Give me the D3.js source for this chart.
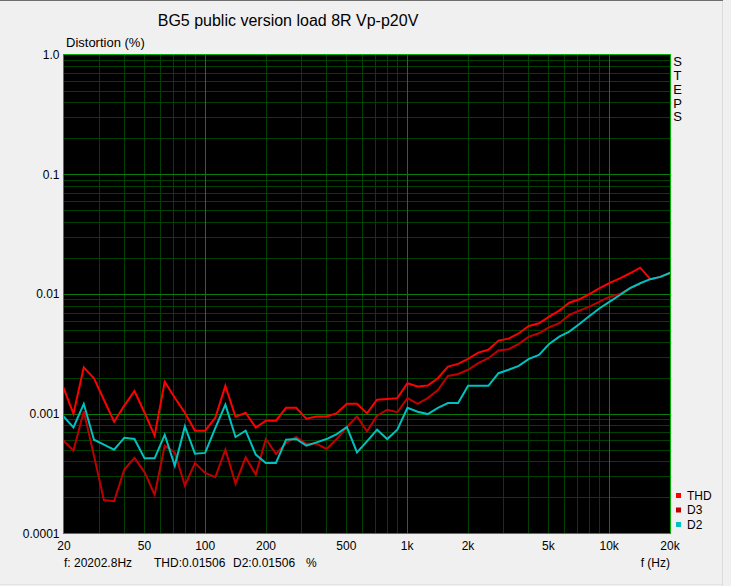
<!DOCTYPE html>
<html>
<head>
<meta charset="utf-8">
<script src="https://cdn.jsdelivr.net/npm/d3@7"></script>
<style>
  html, body { margin: 0; padding: 0; background: #f0f0f0; }
  svg { display: block; }
  text { font-family: "Liberation Sans", Arial, sans-serif; }
</style>
</head>
<body>
<svg id="chart" width="731" height="586"></svg>
<script>
// ---- data ----
const freqs = [20,22.4,25.2,28.3,31.7,35.6,40.0,44.9,50.4,56.5,
  63.4,71.1,79.8,89.5,100.5,112.8,126.6,142.1,159.5,179.0,
  200.7,225.3,252.8,283.8,318.5,357.5,401.3,450.4,505.6,567.5,
  635.6,713.4,800.7,898.7,1008.8,1132.3,1271.2,1426.5,1601.2,1797.1,
  2013.5,2260,2536.6,2847,3195.6,3586.9,4025.9,4518.9,5072,5693,
  6378,7158.7,8034.9,9018.5,10122.5,11362,12752,14314,16066,18032,
  20202.8];

const thd = [0.00165,0.00100,0.00244,0.00198,0.00131,0.000858,0.00117,0.00155,0.00102,0.000656,
  0.00185,0.00136,0.00102,0.000722,0.000722,0.000926,0.00171,0.000944,0.00102,0.000765,
  0.000875,0.000875,0.00112,0.00112,0.000909,0.00095,0.00095,0.00101,0.00121,0.00121,
  0.00101,0.00131,0.00133,0.00135,0.00180,0.00169,0.00172,0.00198,0.00248,0.00261,
  0.00287,0.00324,0.00342,0.00408,0.00424,0.0047,0.00541,0.0057,0.00647,0.00726,
  0.00846,0.00903,0.0100,0.0112,0.0124,0.0135,0.0149,0.0166,0.0133,0.0139,
  0.01506];

const d3h = [0.000596,0.000492,0.00105,0.000447,0.00019,0.000186,0.000342,0.000428,0.000324,0.000211,
  0.000541,0.000476,0.000251,0.000388,0.000321,0.000295,0.000501,0.000261,0.000432,0.00031,
  0.000615,0.000462,0.00057,0.000639,0.000562,0.000562,0.000508,0.000615,0.000775,0.00095,
  0.000712,0.000962,0.00108,0.00103,0.00135,0.00121,0.00135,0.00158,0.00207,0.00215,
  0.00233,0.00265,0.00291,0.00337,0.00346,0.00383,0.00441,0.0047,0.00528,0.0057,
  0.00668,0.00726,0.00784,0.00863,0.0095,0.0100,0.0112,0.01212];

const d2h = [0.00095,0.000769,0.00121,0.000607,0.000552,0.000501,0.000631,0.000615,0.000424,0.000424,
  0.000668,0.000369,0.000784,0.000464,0.000471,0.000757,0.00119,0.000639,0.000722,0.000456,
  0.000388,0.000388,0.000607,0.000615,0.000541,0.000577,0.000615,0.000677,0.000775,0.000476,
  0.000588,0.000736,0.000615,0.000736,0.00112,0.00104,0.000994,0.00112,0.00123,0.00123,
  0.00171,0.00171,0.00171,0.00218,0.00233,0.00251,0.00287,0.0031,0.00383,0.00441,
  0.00485,0.00562,0.00656,0.0076,0.00863,0.00981,0.0112,0.0123,0.0133,0.0139,
  0.01506];

const seriesNames = ["THD", "D3", "D2"];
const seriesColors = ["#ff0000", "#c00000", "#00c0c0"];

const xTickValues = [20,50,100,200,500,1000,2000,5000,10000,20000];
const xTickLabels = ["20","50","100","200","500","1k","2k","5k","10k","20k"];
const yTickValues = [1,0.1,0.01,0.001,0.0001];
const yTickLabels = ["1.0","0.1","0.01","0.001","0.0001"];
const xMinorGrid = [30,40,50,60,70,80,90,200,300,400,500,600,700,800,900,
  2000,3000,4000,5000,6000,7000,8000,9000];
const xMajorGrid = [100,1000,10000];
const yMinorGrid = [2,3,4,5,6,7,8,9].flatMap(m => [1e-4,1e-3,1e-2,1e-1].map(e => m*e));
const yMajorGrid = [0.001,0.01,0.1];

const titleText = "BG5 public version load 8R Vp-p20V";
const yAxisTitle = "Distortion (%)";
const xAxisTitle = "f (Hz)";
const readout = ["f: 20202.8Hz", "THD:0.01506", "D2:0.01506", "%"];

// ---- layout ----
const L = 63.5, R = 670.5, T = 54.5, B = 533.5;
const svg = d3.select("#chart");

// window frame lines
svg.append("rect").attr("x",0).attr("y",0).attr("width",723).attr("height",1).attr("fill","#6e6e6e");
svg.append("rect").attr("x",722).attr("y",1).attr("width",1).attr("height",585).attr("fill","#dcdcdc");
svg.append("rect").attr("x",0).attr("y",584).attr("width",722).attr("height",1).attr("fill","#e4e4e4");

const x = d3.scaleLog().domain([20, 20000]).range([L, 669.5]);
const y = d3.scaleLog().domain([0.0001, 1]).range([B, T]);

// plot background
svg.append("rect").attr("x",L).attr("y",T).attr("width",R-L).attr("height",B-T).attr("fill","#000");

const grid = svg.append("g").attr("shape-rendering","crispEdges");
grid.selectAll("line.vmin").data(xMinorGrid).join("line")
  .attr("x1", d => Math.round(x(d)) + 0.5).attr("x2", d => Math.round(x(d)) + 0.5)
  .attr("y1", T).attr("y2", B).attr("stroke", "#004000").attr("stroke-width", 1);
grid.selectAll("line.hmin").data(yMinorGrid).join("line")
  .attr("y1", d => Math.round(y(d)) + 0.5).attr("y2", d => Math.round(y(d)) + 0.5)
  .attr("x1", L).attr("x2", R).attr("stroke", "#004000").attr("stroke-width", 1);
grid.selectAll("line.vmaj").data(xMajorGrid).join("line")
  .attr("x1", d => Math.round(x(d)) + 0.5).attr("x2", d => Math.round(x(d)) + 0.5)
  .attr("y1", T).attr("y2", B).attr("stroke", "#0a7a0a").attr("stroke-width", 1);
grid.selectAll("line.hmaj").data(yMajorGrid).join("line")
  .attr("y1", d => Math.round(y(d)) + 0.5).attr("y2", d => Math.round(y(d)) + 0.5)
  .attr("x1", L).attr("x2", R).attr("stroke", "#0a7a0a").attr("stroke-width", 1);

// clip
svg.append("clipPath").attr("id","plotclip").append("rect")
  .attr("x",L).attr("y",T).attr("width",R-L).attr("height",B-T);

const line = d3.line().x(d => x(d[0])).y(d => y(d[1]));
const seriesData = [thd, d3h, d2h];
const lines = svg.append("g").attr("clip-path","url(#plotclip)");
seriesData.forEach((vals, i) => {
  const pts = vals.map((v, k) => [freqs[k], v]);
  lines.append("path").datum(pts)
    .attr("d", line)
    .attr("fill", "none")
    .attr("stroke", seriesColors[i])
    .attr("stroke-width", 2)
    .attr("stroke-linejoin", "miter");
});

// border
svg.append("rect").attr("x",L).attr("y",T).attr("width",R-L).attr("height",B-T)
  .attr("fill","none").attr("stroke","#00b000").attr("stroke-width",1)
  .attr("shape-rendering","crispEdges");

// axes
const yAxis = d3.axisLeft(y).tickValues(yTickValues)
  .tickFormat((d,i) => yTickLabels[i]).tickSize(0).tickPadding(4);
const gy = svg.append("g").attr("transform", `translate(${L},0)`).call(yAxis);
gy.select(".domain").remove();
gy.selectAll("text").attr("font-size", 12).attr("font-family", "Liberation Sans, Arial, sans-serif").attr("fill","#000");

const xAxis = d3.axisBottom(x).tickValues(xTickValues)
  .tickFormat((d,i) => xTickLabels[i]).tickSize(0).tickPadding(8);
const gx = svg.append("g").attr("transform", `translate(0,${B})`).call(xAxis);
gx.select(".domain").remove();
gx.selectAll("text").attr("font-size", 12).attr("font-family", "Liberation Sans, Arial, sans-serif").attr("fill","#000");

// titles
svg.append("text").attr("x", 288).attr("y", 26).attr("text-anchor","middle")
  .attr("font-size", 16).text(titleText);
svg.append("text").attr("x", 66).attr("y", 47).attr("font-size", 13).text(yAxisTitle);
svg.append("text").attr("x", 670).attr("y", 566.5).attr("text-anchor","end")
  .attr("font-size", 12).text(xAxisTitle);
const readX = [64, 154, 233, 306];
readout.forEach((t, i) => {
  svg.append("text").attr("x", readX[i]).attr("y", 566.5).attr("font-size", 12).text(t);
});

// STEPS
"STEPS".split("").forEach((c, i) => {
  svg.append("text").attr("x", 677.5).attr("y", 66.3 + i*13.75)
    .attr("text-anchor","middle").attr("font-size", 13).text(c);
});

// legend
seriesNames.forEach((n, i) => {
  svg.append("rect").attr("x", 676).attr("y", 493 + i*14.5).attr("width", 5).attr("height", 5)
    .attr("fill", seriesColors[i]);
  svg.append("text").attr("x", 687).attr("y", 499.5 + i*14.5).attr("font-size", 12).text(n);
});
</script>
</body>
</html>
